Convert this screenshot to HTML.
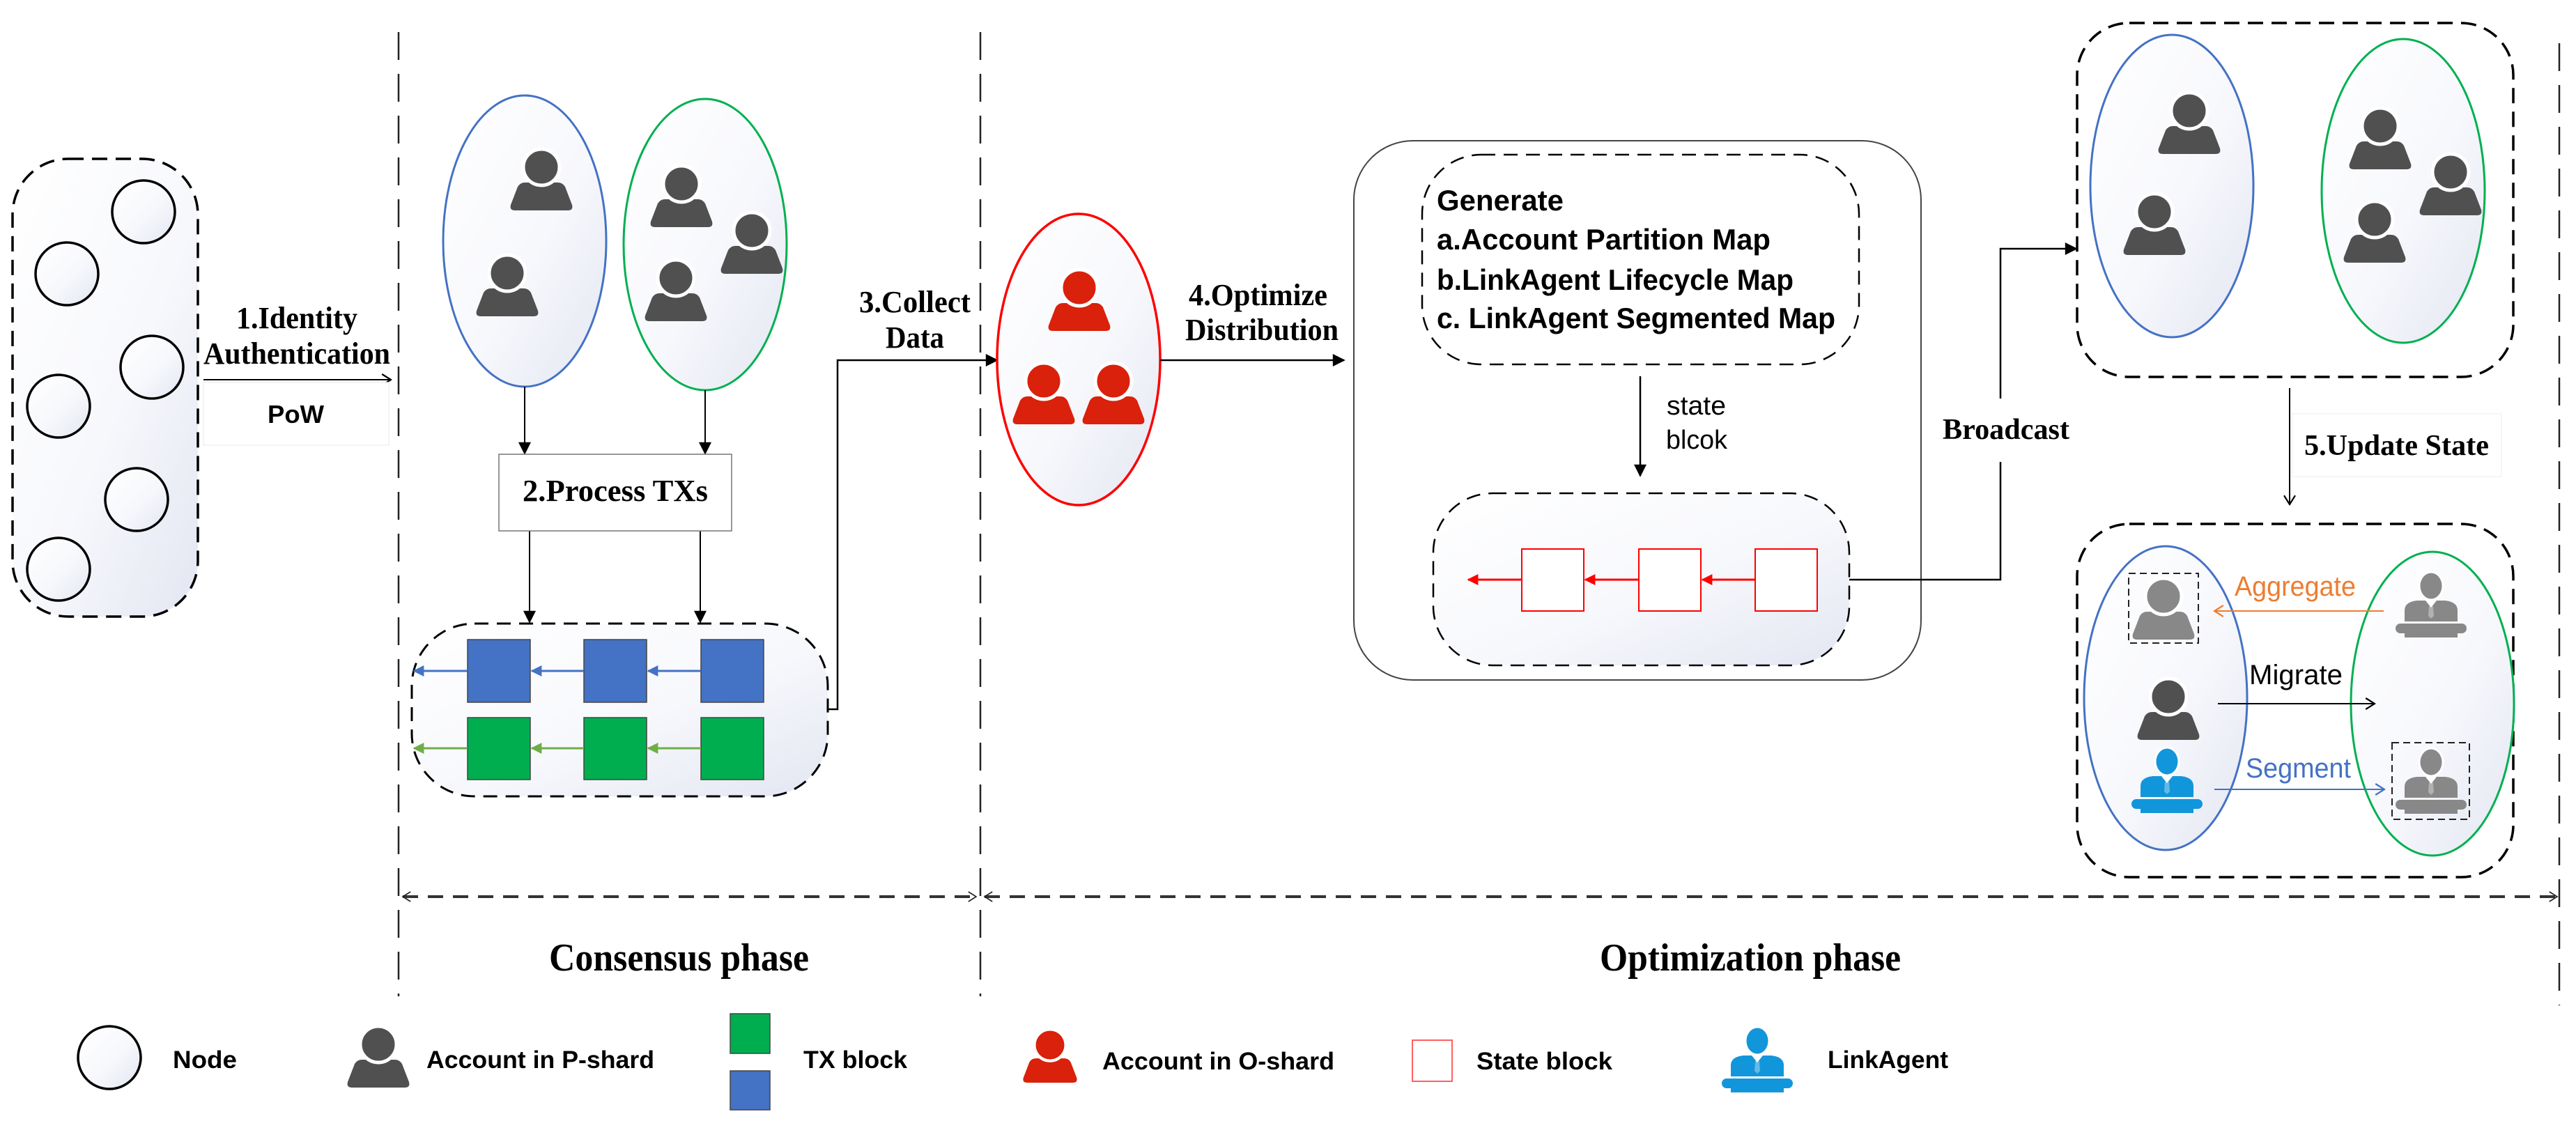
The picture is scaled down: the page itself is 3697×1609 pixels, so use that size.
<!DOCTYPE html>
<html><head><meta charset="utf-8"><style>
html,body{margin:0;padding:0;background:#fff;}
svg{display:block;}
.serif{font-family:"Liberation Serif",serif;font-weight:bold;}
.sans{font-family:"Liberation Sans",sans-serif;}
</style></head><body>
<svg width="3697" height="1609" viewBox="0 0 3697 1609" xmlns="http://www.w3.org/2000/svg">
<defs>
<linearGradient id="g" x1="0" y1="0" x2="1" y2="1">
<stop offset="0" stop-color="#ffffff"/><stop offset="0.55" stop-color="#f7f8fc"/><stop offset="1" stop-color="#e3e6f2"/>
</linearGradient>
<marker id="ab" viewBox="0 0 10 10" refX="9" refY="5" markerWidth="7" markerHeight="7" orient="auto" markerUnits="userSpaceOnUse" ><path d="M0,1 L10,5 L0,9 Z" fill="#000"/></marker>
<marker id="abig" viewBox="0 0 10 10" refX="9" refY="5" markerWidth="20" markerHeight="18" orient="auto" markerUnits="userSpaceOnUse"><path d="M0,0 L10,5 L0,10 Z" fill="#000"/></marker>
<marker id="ablue" viewBox="0 0 10 10" refX="9" refY="5" markerWidth="16" markerHeight="16" orient="auto" markerUnits="userSpaceOnUse"><path d="M0,0 L10,5 L0,10 Z" fill="#4472C4"/></marker>
<marker id="agreen" viewBox="0 0 10 10" refX="9" refY="5" markerWidth="16" markerHeight="16" orient="auto" markerUnits="userSpaceOnUse"><path d="M0,0 L10,5 L0,10 Z" fill="#70AD47"/></marker>
<marker id="ared" viewBox="0 0 10 10" refX="9" refY="5" markerWidth="16" markerHeight="16" orient="auto" markerUnits="userSpaceOnUse"><path d="M0,0 L10,5 L0,10 Z" fill="#FF0000"/></marker>
<marker id="ob" viewBox="0 0 10 10" refX="9" refY="5" markerWidth="16" markerHeight="18" orient="auto" markerUnits="userSpaceOnUse"><path d="M1,0 L9,5 L1,10" fill="none" stroke="#000" stroke-width="1.4"/></marker>
<marker id="oo" viewBox="0 0 10 10" refX="9" refY="5" markerWidth="16" markerHeight="18" orient="auto" markerUnits="userSpaceOnUse"><path d="M1,0 L9,5 L1,10" fill="none" stroke="#ED7D31" stroke-width="1.4"/></marker>
<marker id="obl" viewBox="0 0 10 10" refX="9" refY="5" markerWidth="16" markerHeight="18" orient="auto" markerUnits="userSpaceOnUse"><path d="M1,0 L9,5 L1,10" fill="none" stroke="#4472C4" stroke-width="1.4"/></marker>
<marker id="od" viewBox="0 0 10 10" refX="9" refY="5" markerWidth="14" markerHeight="24" orient="auto-start-reverse" markerUnits="userSpaceOnUse"><path d="M1,0 L9,5 L1,10" fill="none" stroke="#222" stroke-width="1.2"/></marker>
<g id="pp">
<path d="M-24,22 L24,22 Q30,22 34,28 L44,54 Q46,62 38,62 L-38,62 Q-46,62 -44,54 L-34,28 Q-30,22 -24,22 Z"/>
<circle cx="0" cy="0" r="26" stroke="#fff" stroke-width="5"/>
</g>
<g id="la">
<path d="M-38,24 L-38,8 Q-38,-4 -20,-6 L20,-6 Q38,-4 38,8 L38,24 Z"/>
<path d="M-8,-6 L0,4 L8,-6 Z" fill="#fff"/>
<path d="M-3,2 L3,2 L4,16 L0,20 L-4,16 Z" fill="#fff" opacity="0.35"/>
<rect x="-51" y="27" width="102" height="14" rx="7"/>
<rect x="-38" y="40" width="76" height="7"/>
<ellipse cx="0" cy="-27" rx="17" ry="20" stroke="#fff" stroke-width="3"/>
</g>
</defs>

<!-- vertical phase dashed lines -->
<g stroke="#222" stroke-width="2.5" stroke-dasharray="40 20" fill="none">
<line x1="572" y1="46" x2="572" y2="1430"/>
<line x1="1407" y1="46" x2="1407" y2="1430"/>
<line x1="3673" y1="62" x2="3673" y2="1443"/>
</g>
<!-- phase arrows -->
<g stroke="#333" stroke-width="4" stroke-dasharray="22 14" fill="none">
<line x1="578" y1="1287" x2="1401" y2="1287" marker-start="url(#od)" marker-end="url(#od)"/>
<line x1="1413" y1="1287" x2="3670" y2="1287" marker-start="url(#od)" marker-end="url(#od)"/>
</g>
<text class="serif" x="788" y="1393" font-size="56" textLength="373" lengthAdjust="spacingAndGlyphs">Consensus phase</text>
<text class="serif" x="2296" y="1393" font-size="56" textLength="432" lengthAdjust="spacingAndGlyphs">Optimization phase</text>

<!-- left nodes box -->
<rect x="18" y="228" width="266" height="657" rx="80" fill="url(#g)" stroke="#000" stroke-width="3.5" stroke-dasharray="22 12"/>
<g fill="url(#g)" stroke="#000" stroke-width="3.5">
<circle cx="206" cy="304" r="45"/><circle cx="96" cy="393" r="45"/><circle cx="218" cy="527" r="45"/>
<circle cx="84" cy="583" r="45"/><circle cx="196" cy="717" r="45"/><circle cx="84" cy="817" r="45"/>
</g>
<text class="serif" x="339" y="471" font-size="44" textLength="174" lengthAdjust="spacingAndGlyphs">1.Identity</text>
<text class="serif" x="292" y="522" font-size="44" textLength="268" lengthAdjust="spacingAndGlyphs">Authentication</text>
<line x1="292" y1="545" x2="561" y2="545" stroke="#000" stroke-width="2" marker-end="url(#ob)"/>
<rect x="292" y="549" width="266" height="90" fill="#fff" stroke="#f0f0f0" stroke-width="1.5"/>
<text class="sans" x="384" y="707" font-size="36" font-weight="bold" textLength="81" lengthAdjust="spacingAndGlyphs" transform="translate(0,-100)">PoW</text>

<!-- P-shard ellipses -->
<ellipse cx="753" cy="346" rx="117" ry="209" fill="url(#g)" stroke="#4472C4" stroke-width="3"/>
<ellipse cx="1012" cy="351" rx="117" ry="209" fill="url(#g)" stroke="#00B050" stroke-width="3"/>
<g fill="#505050">
<use href="#pp" x="777" y="240"/><use href="#pp" x="728" y="392"/>
<use href="#pp" x="978" y="264"/><use href="#pp" x="1079" y="331"/><use href="#pp" x="970" y="399"/>
</g>
<g stroke="#000" stroke-width="2" fill="none">
<line x1="753" y1="555" x2="753" y2="651" marker-end="url(#abig)"/>
<line x1="1012" y1="560" x2="1012" y2="651" marker-end="url(#abig)"/>
<line x1="760" y1="762" x2="760" y2="893" marker-end="url(#abig)"/>
<line x1="1005" y1="762" x2="1005" y2="893" marker-end="url(#abig)"/>
</g>
<rect x="716" y="652" width="334" height="110" fill="#fff" stroke="#777" stroke-width="1.5"/>
<text class="serif" x="750" y="719" font-size="44" textLength="266" lengthAdjust="spacingAndGlyphs">2.Process  TXs</text>

<!-- chain box -->
<rect x="591" y="895" width="597" height="248" rx="90" fill="url(#g)" stroke="#000" stroke-width="3" stroke-dasharray="20 12"/>
<g stroke="#444" stroke-width="1.5">
<rect x="671" y="918" width="90" height="90" fill="#4472C4"/>
<rect x="838" y="918" width="90" height="90" fill="#4472C4"/>
<rect x="1006" y="918" width="90" height="90" fill="#4472C4"/>
<rect x="671" y="1030" width="90" height="89" fill="#00AE4F"/>
<rect x="838" y="1030" width="90" height="89" fill="#00AE4F"/>
<rect x="1006" y="1030" width="90" height="89" fill="#00AE4F"/>
</g>
<g stroke-width="3">
<line x1="671" y1="963" x2="594" y2="963" stroke="#4472C4" marker-end="url(#ablue)"/>
<line x1="838" y1="963" x2="763" y2="963" stroke="#4472C4" marker-end="url(#ablue)"/>
<line x1="1006" y1="963" x2="930" y2="963" stroke="#4472C4" marker-end="url(#ablue)"/>
<line x1="671" y1="1074" x2="594" y2="1074" stroke="#70AD47" marker-end="url(#agreen)"/>
<line x1="838" y1="1074" x2="763" y2="1074" stroke="#70AD47" marker-end="url(#agreen)"/>
<line x1="1006" y1="1074" x2="930" y2="1074" stroke="#70AD47" marker-end="url(#agreen)"/>
</g>
<polyline points="1188,1018 1202,1018 1202,517 1431,517" fill="none" stroke="#000" stroke-width="2.5" marker-end="url(#abig)"/>
<text class="serif" x="1233" y="448" font-size="44" textLength="160" lengthAdjust="spacingAndGlyphs">3.Collect</text>
<text class="serif" x="1271" y="499" font-size="44" textLength="84" lengthAdjust="spacingAndGlyphs">Data</text>

<!-- O-shard -->
<ellipse cx="1548" cy="516" rx="117" ry="209" fill="url(#g)" stroke="#FF0000" stroke-width="3.5"/>
<g fill="#D9210B">
<use href="#pp" x="1549" y="413"/><use href="#pp" x="1498" y="547"/><use href="#pp" x="1598" y="547"/>
</g>
<line x1="1665" y1="517" x2="1929" y2="517" stroke="#000" stroke-width="2.5" marker-end="url(#abig)"/>
<text class="serif" x="1706" y="438" font-size="44" textLength="199" lengthAdjust="spacingAndGlyphs">4.Optimize</text>
<text class="serif" x="1701" y="488" font-size="44" textLength="220" lengthAdjust="spacingAndGlyphs">Distribution</text>

<!-- big box -->
<rect x="1943" y="202" width="814" height="774" rx="85" fill="#fff" stroke="#444" stroke-width="2"/>
<rect x="2041" y="222" width="627" height="301" rx="85" fill="#fff" stroke="#000" stroke-width="2.5" stroke-dasharray="20 12"/>
<g class="sans" font-weight="bold" font-size="42">
<text x="2062" y="302" textLength="182" lengthAdjust="spacingAndGlyphs">Generate</text>
<text x="2062" y="358" textLength="479" lengthAdjust="spacingAndGlyphs">a.Account Partition Map</text>
<text x="2062" y="416" textLength="512" lengthAdjust="spacingAndGlyphs">b.LinkAgent Lifecycle Map</text>
<text x="2062" y="471" textLength="572" lengthAdjust="spacingAndGlyphs">c. LinkAgent Segmented Map</text>
</g>
<line x1="2354" y1="540" x2="2354" y2="683" stroke="#000" stroke-width="2.5" marker-end="url(#abig)"/>
<text class="sans" x="2392" y="595" font-size="38" textLength="85" lengthAdjust="spacingAndGlyphs">state</text>
<text class="sans" x="2391" y="644" font-size="38" textLength="88" lengthAdjust="spacingAndGlyphs">blcok</text>
<rect x="2057" y="708" width="597" height="247" rx="85" fill="url(#g)" stroke="#000" stroke-width="2.5" stroke-dasharray="20 12"/>
<g fill="#fff" stroke="#FF0000" stroke-width="2">
<rect x="2184" y="788" width="89" height="89"/><rect x="2352" y="788" width="89" height="89"/><rect x="2519" y="788" width="89" height="89"/>
</g>
<g stroke="#FF0000" stroke-width="3">
<line x1="2184" y1="832" x2="2107" y2="832" marker-end="url(#ared)"/>
<line x1="2352" y1="832" x2="2275" y2="832" marker-end="url(#ared)"/>
<line x1="2519" y1="832" x2="2443" y2="832" marker-end="url(#ared)"/>
</g>

<!-- broadcast -->
<polyline points="2654,832 2871,832 2871,663" fill="none" stroke="#000" stroke-width="2.5"/>
<polyline points="2871,572 2871,357 2980,357" fill="none" stroke="#000" stroke-width="2.5" marker-end="url(#abig)"/>
<text class="serif" x="2788" y="630" font-size="42" textLength="182" lengthAdjust="spacingAndGlyphs">Broadcast</text>

<!-- top right box -->
<rect x="2981" y="33" width="626" height="508" rx="75" fill="#fff" stroke="#000" stroke-width="3.5" stroke-dasharray="22 12"/>
<ellipse cx="3117" cy="267" rx="117" ry="217" fill="url(#g)" stroke="#4472C4" stroke-width="3"/>
<ellipse cx="3449" cy="274" rx="117" ry="218" fill="url(#g)" stroke="#00B050" stroke-width="3"/>
<g fill="#505050">
<use href="#pp" x="3142" y="159"/><use href="#pp" x="3092" y="304"/>
<use href="#pp" x="3416" y="181"/><use href="#pp" x="3517" y="247"/><use href="#pp" x="3408" y="315"/>
</g>
<line x1="3286" y1="557" x2="3286" y2="724" stroke="#000" stroke-width="2" marker-end="url(#ob)"/>
<rect x="3290" y="594" width="300" height="90" fill="#fff" stroke="#f3f3f3" stroke-width="1.5"/>
<text class="serif" x="3307" y="653" font-size="42" textLength="265" lengthAdjust="spacingAndGlyphs">5.Update State</text>

<!-- bottom right box -->
<rect x="2981" y="752" width="626" height="507" rx="75" fill="#fff" stroke="#000" stroke-width="3.5" stroke-dasharray="22 12"/>
<ellipse cx="3108" cy="1002" rx="117" ry="218" fill="url(#g)" stroke="#4472C4" stroke-width="3"/>
<ellipse cx="3491" cy="1010" rx="117" ry="218" fill="url(#g)" stroke="#00B050" stroke-width="3"/>
<rect x="3055" y="823" width="100" height="100" fill="none" stroke="#222" stroke-width="2" stroke-dasharray="10 6"/>
<rect x="3433" y="1066" width="111" height="110" fill="none" stroke="#222" stroke-width="2" stroke-dasharray="10 6"/>
<use href="#pp" x="3105" y="856" fill="#888"/>
<use href="#pp" x="3112" y="1000" fill="#505050"/>
<use href="#la" x="3110" y="1120" fill="#1296DB"/>
<use href="#la" x="3489" y="868" fill="#888"/>
<use href="#la" x="3489" y="1121" fill="#888"/>
<line x1="3421" y1="877" x2="3178" y2="877" stroke="#ED7D31" stroke-width="2" marker-end="url(#oo)"/>
<line x1="3183" y1="1010" x2="3408" y2="1010" stroke="#000" stroke-width="2" marker-end="url(#ob)"/>
<line x1="3178" y1="1133" x2="3422" y2="1133" stroke="#4472C4" stroke-width="2" marker-end="url(#obl)"/>
<g class="sans" font-size="40">
<text x="3207" y="855" fill="#ED7D31" textLength="174" lengthAdjust="spacingAndGlyphs">Aggregate</text>
<text x="3228" y="982" fill="#000" textLength="134" lengthAdjust="spacingAndGlyphs">Migrate</text>
<text x="3223" y="1116" fill="#4472C4" textLength="151" lengthAdjust="spacingAndGlyphs">Segment</text>
</g>

<!-- legend -->
<circle cx="157" cy="1518" r="45" fill="url(#g)" stroke="#000" stroke-width="3.5"/>
<use href="#pp" x="543" y="1499" fill="#505050"/>
<rect x="1048" y="1455" width="57" height="57" fill="#00AE4F" stroke="#444" stroke-width="1.5"/>
<rect x="1048" y="1537" width="57" height="56" fill="#4472C4" stroke="#444" stroke-width="1.5"/>
<use href="#pp" transform="translate(1507,1500) scale(0.87)" fill="#D9210B"/>
<rect x="2027" y="1493" width="57" height="59" fill="#fff" stroke="#FF6060" stroke-width="2"/>
<use href="#la" x="2522" y="1521" fill="#1296DB"/>
<g class="sans" font-weight="bold" font-size="35">
<text x="248" y="1533" textLength="92" lengthAdjust="spacingAndGlyphs">Node</text>
<text x="612" y="1533" textLength="327" lengthAdjust="spacingAndGlyphs">Account in P-shard</text>
<text x="1153" y="1533" textLength="149" lengthAdjust="spacingAndGlyphs">TX block</text>
<text x="1582" y="1535" textLength="333" lengthAdjust="spacingAndGlyphs">Account in O-shard</text>
<text x="2119" y="1535" textLength="195" lengthAdjust="spacingAndGlyphs">State block</text>
<text x="2623" y="1533" textLength="173" lengthAdjust="spacingAndGlyphs">LinkAgent</text>
</g>
</svg>
</body></html>
